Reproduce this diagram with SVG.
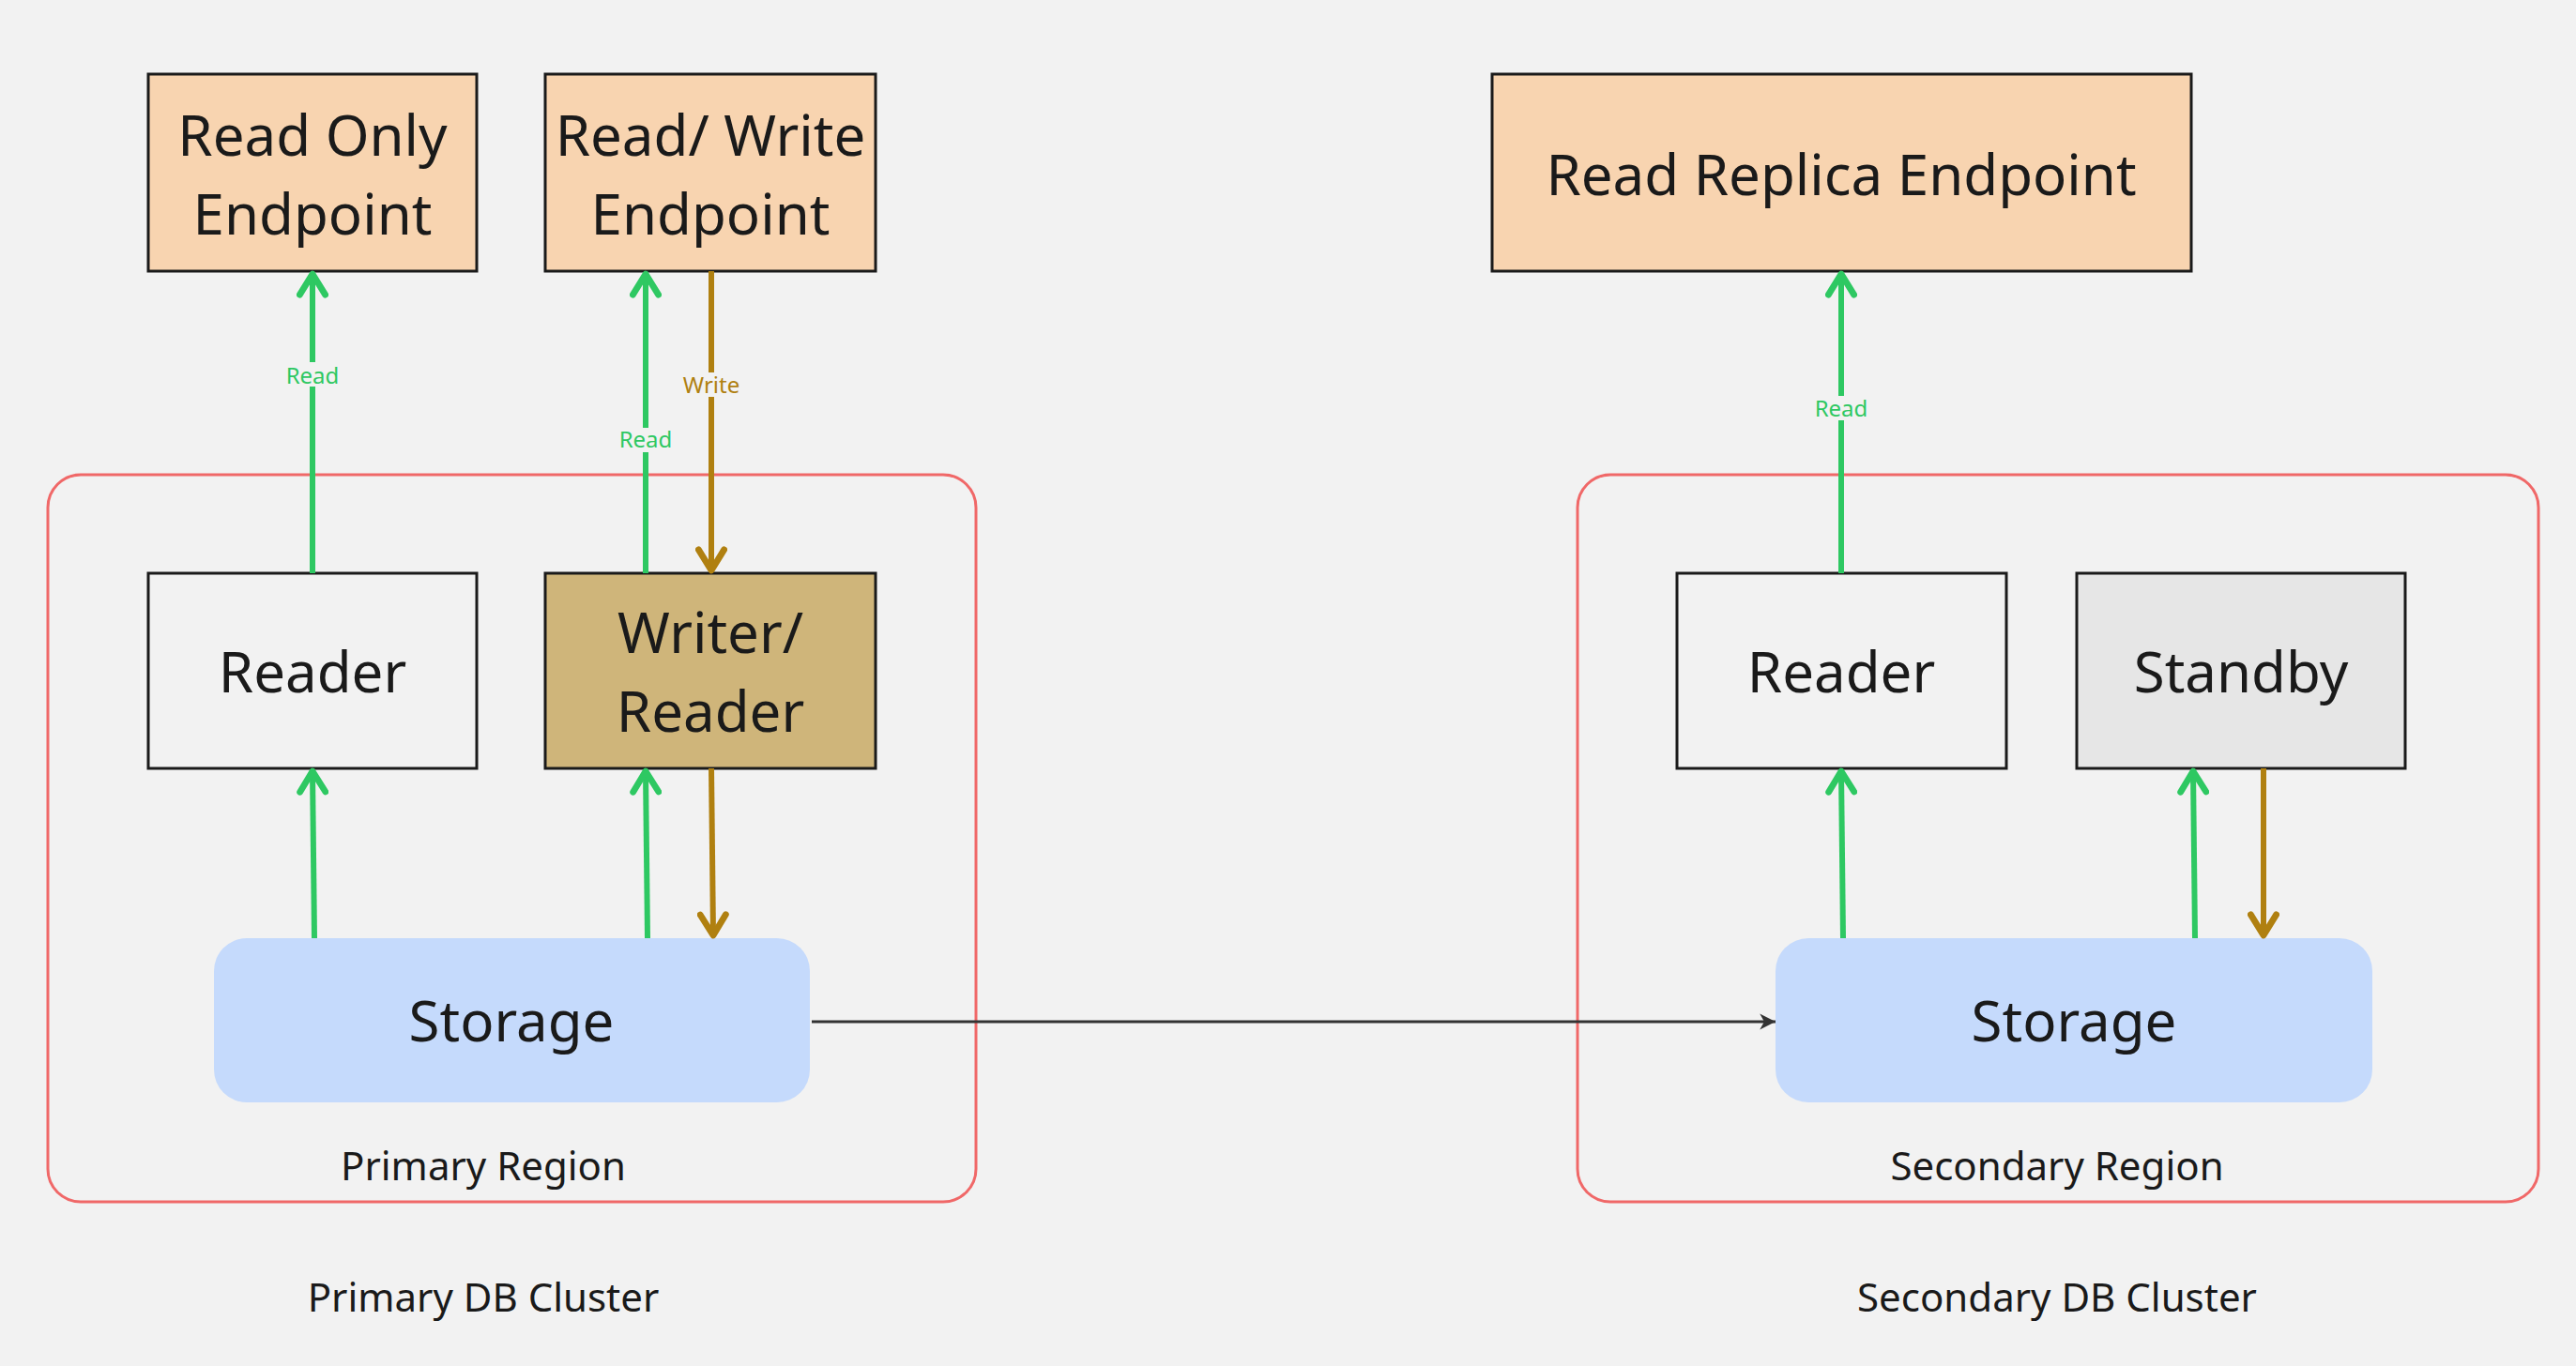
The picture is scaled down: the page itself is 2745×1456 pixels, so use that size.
<svg xmlns="http://www.w3.org/2000/svg" width="2745" height="1456" viewBox="0 0 2745 1456">
<style>
text{font-family:"Noto Sans","Open Sans",sans-serif;fill:#1a1a1a;text-anchor:middle}
.big{font-size:60px}
.reg{font-size:42px}
.lbl{font-size:24px}
.ep{fill:#f8d4b0;stroke:#1a1a1a;stroke-width:3}
.nd{stroke:#1a1a1a;stroke-width:3}
.region{fill:none;stroke:#f06868;stroke-width:3}
.g{stroke:#2ec862;stroke-width:6;fill:none}
.b{stroke:#b08010;stroke-width:6;fill:none}
.lb{fill:#f2f2f2}
</style>
<defs>
<marker id="ag" viewBox="0 0 20 20" refX="16" refY="10" markerWidth="34" markerHeight="34" markerUnits="userSpaceOnUse" orient="auto"><path d="M3,2 L16,10 L3,18" fill="none" stroke="#2ec862" stroke-width="4" stroke-linecap="round" stroke-linejoin="round"/></marker>
<marker id="ab" viewBox="0 0 20 20" refX="16" refY="10" markerWidth="34" markerHeight="34" markerUnits="userSpaceOnUse" orient="auto"><path d="M3,2 L16,10 L3,18" fill="none" stroke="#b08010" stroke-width="4" stroke-linecap="round" stroke-linejoin="round"/></marker>
<marker id="ak" viewBox="0 0 20 20" refX="17" refY="10" markerWidth="24" markerHeight="24" markerUnits="userSpaceOnUse" orient="auto"><path d="M3,3 L17,10 L3,17 L7,10 Z" fill="#333"/></marker>
</defs>
<rect width="2745" height="1456" fill="#f2f2f2"/>
<g id="primary-region"><rect class="region" x="51" y="506" width="989" height="775" rx="35"/><text class="reg" x="515" y="1258">Primary Region</text></g>
<g id="secondary-region"><rect class="region" x="1681" y="506" width="1024" height="775" rx="35"/><text class="reg" x="2192" y="1258">Secondary Region</text></g>
<g id="ro-endpoint"><rect class="ep" x="158" y="79" width="350" height="210"/><text class="big" x="333" y="166">Read Only</text><text class="big" x="333" y="250">Endpoint</text></g>
<g id="rw-endpoint"><rect class="ep" x="581" y="79" width="352" height="210"/><text class="big" x="757" y="166">Read/ Write</text><text class="big" x="757" y="250">Endpoint</text></g>
<g id="rr-endpoint"><rect class="ep" x="1590" y="79" width="745" height="210"/><text class="big" x="1962" y="208">Read Replica Endpoint</text></g>
<g id="reader1"><rect class="nd" fill="#f2f2f2" x="158" y="611" width="350" height="208"/><text class="big" x="333" y="738">Reader</text></g>
<g id="writer"><rect class="nd" fill="#cfb57a" x="581" y="611" width="352" height="208"/><text class="big" x="757" y="696">Writer/</text><text class="big" x="757" y="780">Reader</text></g>
<g id="reader2"><rect class="nd" fill="#f2f2f2" x="1787" y="611" width="351" height="208"/><text class="big" x="1962" y="738">Reader</text></g>
<g id="standby"><rect class="nd" fill="#e6e6e6" x="2213" y="611" width="350" height="208"/><text class="big" x="2388" y="738">Standby</text></g>
<g id="storage1"><rect fill="#c5dafc" x="228" y="1000" width="635" height="175" rx="35"/><text class="big" x="545" y="1110">Storage</text></g>
<g id="storage2"><rect fill="#c5dafc" x="1892" y="1000" width="636" height="175" rx="35"/><text class="big" x="2210" y="1110">Storage</text></g>
<text class="reg" x="515" y="1398">Primary DB Cluster</text>
<text class="reg" x="2192" y="1398">Secondary DB Cluster</text>
<g id="connectors">
<line class="g" x1="333" y1="611" x2="333" y2="292" marker-end="url(#ag)"/>
<line class="g" x1="688" y1="611" x2="688" y2="292" marker-end="url(#ag)"/>
<line class="b" x1="758" y1="289" x2="758" y2="608" marker-end="url(#ab)"/>
<line class="g" x1="1962" y1="611" x2="1962" y2="292" marker-end="url(#ag)"/>
<line class="g" x1="335" y1="1000" x2="333" y2="822" marker-end="url(#ag)"/>
<line class="g" x1="690" y1="1000" x2="688" y2="822" marker-end="url(#ag)"/>
<line class="b" x1="758" y1="819" x2="760" y2="997" marker-end="url(#ab)"/>
<line class="g" x1="1964" y1="1000" x2="1962" y2="822" marker-end="url(#ag)"/>
<line class="g" x1="2339" y1="1000" x2="2337" y2="822" marker-end="url(#ag)"/>
<line class="b" x1="2412" y1="819" x2="2412" y2="997" marker-end="url(#ab)"/>
<line x1="865" y1="1089" x2="1892" y2="1089" stroke="#333" stroke-width="3" marker-end="url(#ak)"/>
<rect class="lb" x="300" y="386" width="66" height="26"/><text class="lbl" x="333" y="409" style="fill:#2ec862">Read</text>
<rect class="lb" x="655" y="456" width="66" height="26"/><text class="lbl" x="688" y="477" style="fill:#2ec862">Read</text>
<rect class="lb" x="722" y="397" width="72" height="26"/><text class="lbl" x="758" y="419" style="fill:#b08010">Write</text>
<rect class="lb" x="1929" y="422" width="66" height="26"/><text class="lbl" x="1962" y="444" style="fill:#2ec862">Read</text>
</g>
</svg>
